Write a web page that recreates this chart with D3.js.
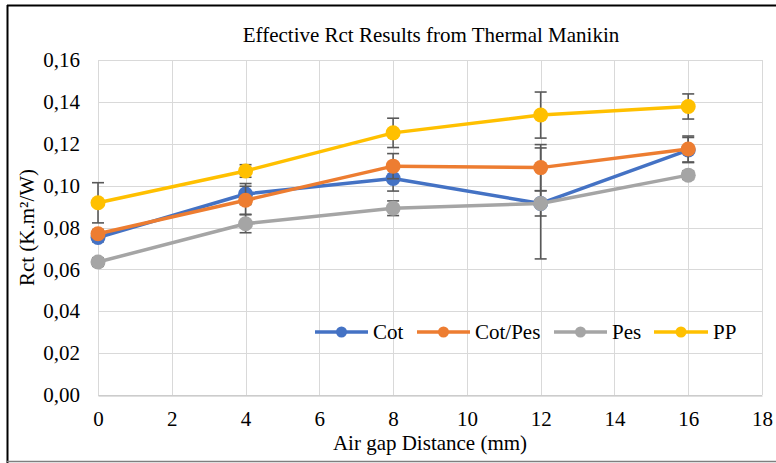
<!DOCTYPE html>
<html>
<head>
<meta charset="utf-8">
<script src="https://cdn.jsdelivr.net/npm/d3@7"></script>
<style>
html,body{margin:0;padding:0;background:#fff;}
svg{display:block;}
svg text{font-family:"Liberation Serif","Times New Roman",serif !important;fill:#000;}
</style>
</head>
<body>
<svg id="chart" width="776" height="463"></svg>
<script>
const xValues = [0, 4, 8, 12, 16];
const seriesNames = ["Cot", "Cot/Pes", "Pes", "PP"];
const cotValues = [0.0752, 0.0960, 0.1034, 0.0915, 0.1170];
const cotPesValues = [0.0770, 0.0930, 0.1093, 0.1086, 0.1175];
const pesValues = [0.0635, 0.0818, 0.0892, 0.0915, 0.1050];
const ppValues = [0.0918, 0.1070, 0.1252, 0.1337, 0.1378];
const cotErrors = [0.002, 0.005, 0.006, 0.0265, 0.006];
const cotPesErrors = [0.002, 0.0067, 0.006, 0.011, 0.0062];
const pesErrors = [0.002, 0.0043, 0.0035, 0.006, 0.002];
const ppErrors = [0.0096, 0.003, 0.007, 0.011, 0.006];
const xTicks = [0, 2, 4, 6, 8, 10, 12, 14, 16, 18];
const yTicks = [0, 0.02, 0.04, 0.06, 0.08, 0.10, 0.12, 0.14, 0.16];
const colors = ["#4472C4", "#ED7D31", "#A5A5A5", "#FFC000"];

const series = [
  {name: seriesNames[0], values: cotValues, errors: cotErrors, color: colors[0]},
  {name: seriesNames[1], values: cotPesValues, errors: cotPesErrors, color: colors[1]},
  {name: seriesNames[2], values: pesValues, errors: pesErrors, color: colors[2]},
  {name: seriesNames[3], values: ppValues, errors: ppErrors, color: colors[3]}
];

const W = 776, H = 463;
const margin = {left: 98, right: 14, top: 60, bottom: 68};
const FS = 21;
const svg = d3.select("#chart");

// outer frame
svg.append("line").attr("x1", 7).attr("x2", W).attr("y1", 5.5).attr("y2", 5.5).attr("stroke", "#000").attr("stroke-width", 2);
svg.append("line").attr("x1", 7.5).attr("x2", 7.5).attr("y1", 5).attr("y2", H).attr("stroke", "#000").attr("stroke-width", 2);
svg.append("line").attr("x1", 7).attr("x2", W).attr("y1", 461.5).attr("y2", 461.5).attr("stroke", "#7f7f7f").attr("stroke-width", 1.5);

const x = d3.scaleLinear().domain([0, 18]).range([margin.left, W - margin.right]);
const y = d3.scaleLinear().domain([0, 0.16]).range([H - margin.bottom, margin.top]);

// gridlines
const grid = svg.append("g");
grid.selectAll("line.h").data(yTicks).join("line")
  .attr("x1", x(0)).attr("x2", x(18))
  .attr("y1", d => Math.round(y(d)) + 0.5).attr("y2", d => Math.round(y(d)) + 0.5)
  .attr("stroke", "#D9D9D9").attr("stroke-width", 1);
grid.selectAll("line.v").data(xTicks).join("line")
  .attr("x1", d => Math.round(x(d)) + 0.5).attr("x2", d => Math.round(x(d)) + 0.5)
  .attr("y1", y(0.16)).attr("y2", y(0))
  .attr("stroke", "#D9D9D9").attr("stroke-width", 1);

// axes
const xAxis = d3.axisBottom(x).tickValues(xTicks).tickSize(0).tickPadding(15).tickFormat(d3.format("d"));
const gx = svg.append("g").attr("transform", `translate(0,${Math.round(y(0)) + 0.5})`).call(xAxis)
  .attr("font-size", FS).attr("font-family", null);
gx.select(".domain").attr("stroke", "#BFBFBF");
gx.selectAll("text").attr("dy", null).attr("dominant-baseline", "auto").attr("y", 30.5);

const fmtY = d => d3.format(".2f")(d).replace(".", ",");
const yAxis = d3.axisLeft(y).tickValues(yTicks).tickSize(0).tickPadding(18).tickFormat(fmtY);
const gy = svg.append("g").attr("transform", `translate(${x(0)},0)`).call(yAxis)
  .attr("font-size", FS).attr("font-family", null);
gy.select(".domain").remove();

// titles
svg.append("text").attr("x", 431).attr("y", 42).attr("text-anchor", "middle")
  .attr("font-size", FS).text("Effective Rct Results from Thermal Manikin");
svg.append("text").attr("x", 430).attr("y", 450).attr("text-anchor", "middle")
  .attr("font-size", FS).text("Air gap Distance (mm)");
svg.append("text").attr("transform", `translate(34,${(y(0) + y(0.16)) / 2}) rotate(-90)`)
  .attr("text-anchor", "middle").attr("font-size", FS).text("Rct (K.m²/W)");

// series
const line = d3.line().x((d, i) => x(xValues[i])).y(d => y(d));
series.forEach(s => {
  const g = svg.append("g");
  g.append("path").datum(s.values).attr("d", line)
    .attr("fill", "none").attr("stroke", s.color).attr("stroke-width", 3.5)
    .attr("stroke-linejoin", "round");
  const eb = g.append("g").attr("stroke", "#595959").attr("stroke-width", 1.6);
  s.values.forEach((v, i) => {
    const cx = x(xValues[i]);
    const y1 = y(v + s.errors[i]), y2 = y(v - s.errors[i]);
    eb.append("line").attr("x1", cx).attr("x2", cx).attr("y1", y1).attr("y2", y2);
    eb.append("line").attr("x1", cx - 6).attr("x2", cx + 6).attr("y1", y1).attr("y2", y1);
    eb.append("line").attr("x1", cx - 6).attr("x2", cx + 6).attr("y1", y2).attr("y2", y2);
  });
  g.selectAll("circle").data(s.values).join("circle")
    .attr("cx", (d, i) => x(xValues[i])).attr("cy", d => y(d)).attr("r", 7.5)
    .attr("fill", s.color);
});

// legend
const legendItems = [
  {lx1: 315, lx2: 368, tx: 373},
  {lx1: 417, lx2: 470, tx: 475},
  {lx1: 554, lx2: 607, tx: 612},
  {lx1: 654, lx2: 708, tx: 713}
];
const ly = 332;
const lg = svg.append("g");
series.forEach((s, i) => {
  const it = legendItems[i];
  lg.append("line").attr("x1", it.lx1).attr("x2", it.lx2).attr("y1", ly).attr("y2", ly)
    .attr("stroke", s.color).attr("stroke-width", 3.5);
  lg.append("circle").attr("cx", (it.lx1 + it.lx2) / 2).attr("cy", ly).attr("r", 5.5).attr("fill", s.color);
  lg.append("text").attr("x", it.tx).attr("y", ly + 7).attr("font-size", FS).text(s.name);
});
</script>
</body>
</html>
